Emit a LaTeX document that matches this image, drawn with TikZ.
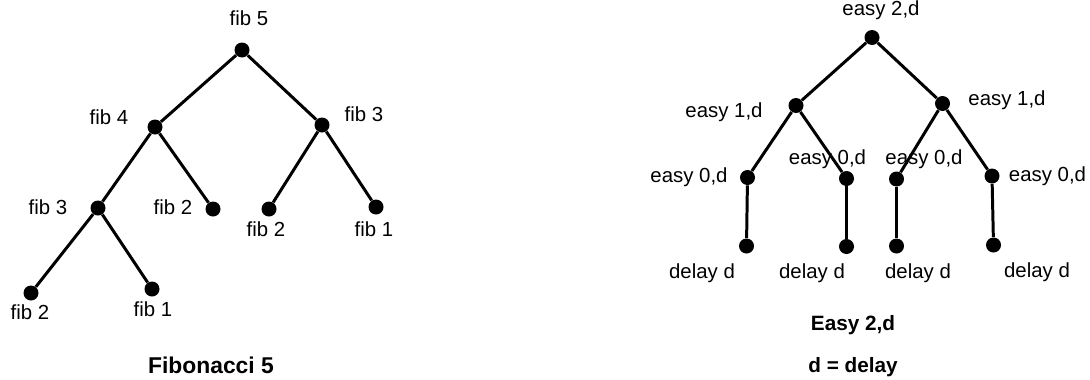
\documentclass[tikz,border=0pt]{standalone}
\usepackage{fontspec}
\setmainfont{Liberation Sans}
\begin{document}
\begin{tikzpicture}[every node/.style={font=\fontsize{11.6}{14}\selectfont},
  dot/.style={circle,fill,inner sep=0pt,minimum size=0.3cm},
  tag/.style={anchor=base,inner sep=0pt},
  caption/.style={anchor=base,inner sep=0pt,font=\bfseries\fontsize{11.8}{14}\selectfont},
  edge/.style={line width=1.7pt}]
\useasboundingbox (0,0) rectangle (21.8,7.58);
% fibonacci call tree
\node[dot] (f5) at (4.84,6.58) {};
\node[dot] (f4) at (3.10,5.04) {};
\node[dot] (f3r) at (6.44,5.08) {};
\node[dot] (f3l) at (1.96,3.42) {};
\node[dot] (f2a) at (4.26,3.40) {};
\node[dot] (f2b) at (5.38,3.40) {};
\node[dot] (f1a) at (7.52,3.44) {};
\node[dot] (f2c) at (0.62,1.72) {};
\node[dot] (f1b) at (3.04,1.80) {};
\draw[edge] (f5) -- (f4);
\draw[edge] (f5) -- (f3r);
\draw[edge] (f4) -- (f3l);
\draw[edge] (f4) -- (f2a);
\draw[edge] (f3r) -- (f2b);
\draw[edge] (f3r) -- (f1a);
\draw[edge] (f3l) -- (f2c);
\draw[edge] (f3l) -- (f1b);
\node[tag] (lf5) at (4.98,7.08) {fib 5};
\node[tag] (lf4) at (2.18,5.09) {fib 4};
\node[tag] (lf3r) at (7.28,5.15) {fib 3};
\node[tag] (lf3l) at (0.96,3.29) {fib 3};
\node[tag] (lf2a) at (3.46,3.29) {fib 2};
\node[tag] (lf2b) at (5.32,2.85) {fib 2};
\node[tag] (lf1a) at (7.48,2.85) {fib 1};
\node[tag] (lf2c) at (0.60,1.19) {fib 2};
\node[tag] (lf1b) at (3.06,1.25) {fib 1};
\node[caption,font=\bfseries\fontsize{13}{15}\selectfont] (fibcap) at (4.22,0.12) {Fibonacci 5};
% easy call tree
\node[dot] (e2) at (17.44,6.83) {};
\node[dot] (e1l) at (15.92,5.47) {};
\node[dot] (e1r) at (18.85,5.51) {};
\node[dot] (e0a) at (14.95,4.03) {};
\node[dot] (e0b) at (16.93,4.01) {};
\node[dot] (e0c) at (17.93,4.00) {};
\node[dot] (e0d) at (19.84,4.06) {};
\node[dot] (da) at (14.93,2.66) {};
\node[dot] (db) at (16.93,2.65) {};
\node[dot] (dc) at (17.93,2.66) {};
\node[dot] (dd) at (19.87,2.68) {};
\draw[edge] (e2) -- (e1l);
\draw[edge] (e2) -- (e1r);
\draw[edge] (e1l) -- (e0a);
\draw[edge] (e1l) -- (e0b);
\draw[edge] (e1r) -- (e0c);
\draw[edge] (e1r) -- (e0d);
\draw[edge] (e0a) -- (da);
\draw[edge] (e0b) -- (db);
\draw[edge] (e0c) -- (dc);
\draw[edge] (e0d) -- (dd);
\node[tag] (le2) at (17.62,7.28) {easy 2,d};
\node[tag] (le1l) at (14.48,5.23) {easy 1,d};
\node[tag] (le1r) at (20.14,5.47) {easy 1,d};
\node[tag] (le0a) at (13.78,3.93) {easy 0,d};
\node[tag] (le0b) at (16.55,4.30) {easy 0,d};
\node[tag] (le0c) at (18.48,4.30) {easy 0,d};
\node[tag] (le0d) at (20.95,3.96) {easy 0,d};
\node[tag] (lda) at (14.04,2.02) {delay d};
\node[tag] (ldb) at (16.24,2.02) {delay d};
\node[tag] (ldc) at (18.36,2.02) {delay d};
\node[tag] (ldd) at (20.74,2.04) {delay d};
\node[caption] (easycap) at (17.06,0.98) {Easy 2,d};
\node[caption] (delaycap) at (17.06,0.14) {d = delay};
\end{tikzpicture}
\end{document}
